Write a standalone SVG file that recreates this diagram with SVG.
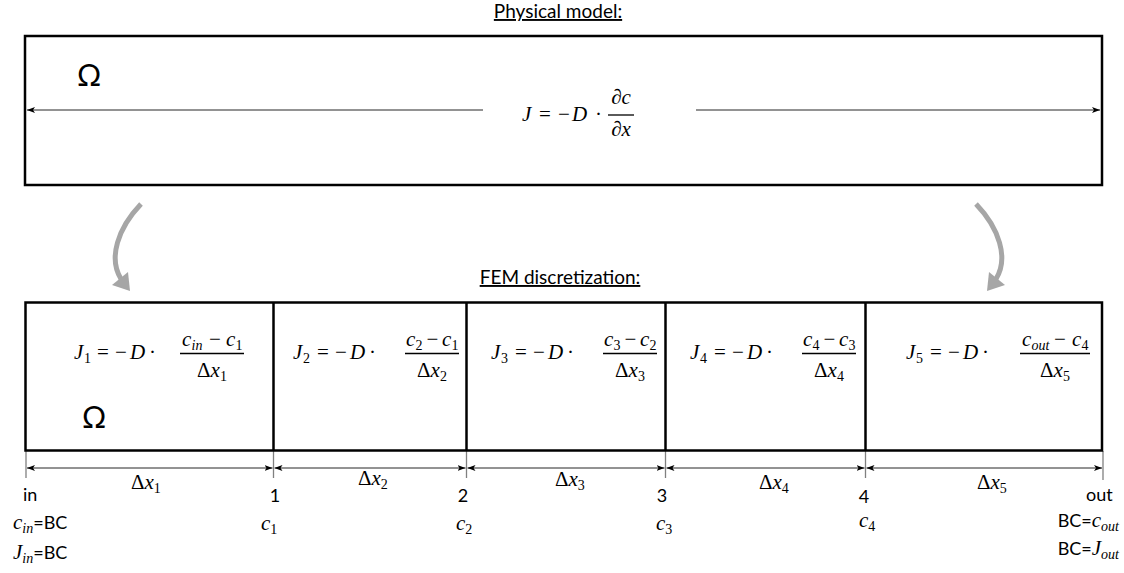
<svg xmlns="http://www.w3.org/2000/svg" width="1124" height="573" viewBox="0 0 1124 573">
<style>
.box{fill:none;stroke:#000;stroke-width:2.5}
.div{stroke:#000;stroke-width:2.5}
.tick{stroke:#808080;stroke-width:1.3}
.dim{stroke:#262626;stroke-width:1}
.bar{stroke:#000;stroke-width:1.3}
.cur{fill:none;stroke:#a6a6a6;stroke-width:5}
.hd{fill:#a6a6a6}
.t{font-family:Lato,"Liberation Sans",sans-serif;font-size:18px;fill:#000}
.ttl{font-family:Lato,"Liberation Sans",sans-serif;font-size:19px;fill:#000;text-decoration:underline}
.om{font-family:Lato,"Liberation Sans",sans-serif;font-size:30px;fill:#000}
.m{font-family:"Liberation Serif","DejaVu Serif",serif;font-size:21px;fill:#000}
.i{font-style:italic}
.s{font-size:14px}
</style>
<defs>
<marker id="ah" viewBox="0 0 8 6" refX="8" refY="3" markerWidth="8" markerHeight="6" markerUnits="userSpaceOnUse" orient="auto-start-reverse">
<path d="M0,0 L8,3 L0,6 L2,3 z" fill="#000"/>
</marker>
</defs>

<text class="ttl" x="558" y="18" text-anchor="middle">Physical model:</text>

<g id="physical-model">
<rect class="box" x="25" y="36" width="1077" height="149"/>
<text class="om" x="77" y="86">Ω</text>
<g id="flux-formula">
<text class="m i" x="522" y="121">J</text>
<text class="m" x="539" y="121">=</text>
<text class="m" x="558" y="121">−</text>
<text class="m i" x="572" y="121">D</text>
<text class="m" x="595" y="121">·</text>
<line class="bar" x1="608" y1="115" x2="634" y2="115"/>
<text class="m i" x="621" y="104" text-anchor="middle">∂c</text>
<text class="m i" x="621" y="136" text-anchor="middle">∂x</text>
</g>
</g>

<g id="connectors">
<line class="dim" x1="483" y1="110" x2="27" y2="110" marker-end="url(#ah)"/>
<line class="dim" x1="696" y1="110" x2="1100" y2="110" marker-end="url(#ah)"/>
<path class="cur" d="M141,204 C118,228 108,258 121,279"/>
<polygon class="hd" points="130,291 112,285 128,272"/>
<path class="cur" d="M976,204 C999,228 1009,258 996,279"/>
<polygon class="hd" points="987,291 1005,285 989,272"/>
<line class="tick" x1="26" y1="451" x2="26" y2="478"/>
<line class="tick" x1="273.5" y1="451" x2="273.5" y2="478"/>
<line class="tick" x1="466.5" y1="451" x2="466.5" y2="478"/>
<line class="tick" x1="665.5" y1="451" x2="665.5" y2="478"/>
<line class="tick" x1="865.5" y1="451" x2="865.5" y2="478"/>
<line class="tick" x1="1103" y1="451" x2="1103" y2="480"/>
<line class="dim" x1="27" y1="468" x2="272.5" y2="468" marker-start="url(#ah)" marker-end="url(#ah)"/>
<line class="dim" x1="274.5" y1="468" x2="465.5" y2="468" marker-start="url(#ah)" marker-end="url(#ah)"/>
<line class="dim" x1="467.5" y1="468" x2="664.5" y2="468" marker-start="url(#ah)" marker-end="url(#ah)"/>
<line class="dim" x1="666.5" y1="468" x2="864.5" y2="468" marker-start="url(#ah)" marker-end="url(#ah)"/>
<line class="dim" x1="866.5" y1="468" x2="1102" y2="468" marker-start="url(#ah)" marker-end="url(#ah)"/>
</g>

<text class="ttl" x="560" y="284" text-anchor="middle">FEM discretization:</text>

<g id="fem-discretization">
<rect class="box" x="25.5" y="302.5" width="1076.5" height="148"/>
<line class="div" x1="273.5" y1="302.5" x2="273.5" y2="450.5"/>
<line class="div" x1="466.5" y1="302.5" x2="466.5" y2="450.5"/>
<line class="div" x1="665.5" y1="302.5" x2="665.5" y2="450.5"/>
<line class="div" x1="865.5" y1="302.5" x2="865.5" y2="450.5"/>
<text class="om" x="82" y="428">Ω</text>
</g>

<g id="element-1">
<text class="m i" x="74" y="359">J</text><text class="m s" x="84" y="363">1</text>
<text class="m" x="97" y="359">=</text>
<text class="m" x="115" y="359">−</text>
<text class="m i" x="130" y="359">D</text>
<text class="m" x="149" y="359">·</text>
<line class="bar" x1="180" y1="353.5" x2="244" y2="353.5"/>
<text class="m i" x="182" y="346">c</text><text class="m i s" x="191.5" y="350">in</text>
<text class="m" x="209" y="346">−</text>
<text class="m i" x="226" y="346">c</text><text class="m s" x="235.5" y="350">1</text>
<text class="m" x="212" y="377" text-anchor="middle">Δ<tspan class="i">x</tspan><tspan class="s" dy="4">1</tspan></text>
</g>

<g id="element-2">
<text class="m i" x="293" y="359">J</text><text class="m s" x="303" y="363">2</text>
<text class="m" x="317" y="359">=</text>
<text class="m" x="335" y="359">−</text>
<text class="m i" x="350" y="359">D</text>
<text class="m" x="369" y="359">·</text>
<line class="bar" x1="405" y1="353.5" x2="459" y2="353.5"/>
<text class="m i" x="406" y="346">c</text><text class="m s" x="415.5" y="350">2</text>
<text class="m" x="426.5" y="346">−</text>
<text class="m i" x="442" y="346">c</text><text class="m s" x="451.5" y="350">1</text>
<text class="m" x="432" y="377" text-anchor="middle">Δ<tspan class="i">x</tspan><tspan class="s" dy="4">2</tspan></text>
</g>

<g id="element-3">
<text class="m i" x="491" y="359">J</text><text class="m s" x="501" y="363">3</text>
<text class="m" x="515" y="359">=</text>
<text class="m" x="533" y="359">−</text>
<text class="m i" x="548" y="359">D</text>
<text class="m" x="567" y="359">·</text>
<line class="bar" x1="603" y1="353.5" x2="657" y2="353.5"/>
<text class="m i" x="604" y="346">c</text><text class="m s" x="613.5" y="350">3</text>
<text class="m" x="624.5" y="346">−</text>
<text class="m i" x="640" y="346">c</text><text class="m s" x="649.5" y="350">2</text>
<text class="m" x="630" y="377" text-anchor="middle">Δ<tspan class="i">x</tspan><tspan class="s" dy="4">3</tspan></text>
</g>

<g id="element-4">
<text class="m i" x="690" y="359">J</text><text class="m s" x="700" y="363">4</text>
<text class="m" x="714" y="359">=</text>
<text class="m" x="732" y="359">−</text>
<text class="m i" x="747" y="359">D</text>
<text class="m" x="766" y="359">·</text>
<line class="bar" x1="802" y1="353.5" x2="856" y2="353.5"/>
<text class="m i" x="803" y="346">c</text><text class="m s" x="812.5" y="350">4</text>
<text class="m" x="823.5" y="346">−</text>
<text class="m i" x="839" y="346">c</text><text class="m s" x="848.5" y="350">3</text>
<text class="m" x="829" y="377" text-anchor="middle">Δ<tspan class="i">x</tspan><tspan class="s" dy="4">4</tspan></text>
</g>

<g id="element-5">
<text class="m i" x="906" y="359">J</text><text class="m s" x="916" y="363">5</text>
<text class="m" x="930" y="359">=</text>
<text class="m" x="948" y="359">−</text>
<text class="m i" x="963" y="359">D</text>
<text class="m" x="982" y="359">·</text>
<line class="bar" x1="1020" y1="353.5" x2="1090" y2="353.5"/>
<text class="m i" x="1022" y="346">c</text><text class="m i s" x="1031.5" y="350">out</text>
<text class="m" x="1054" y="346">−</text>
<text class="m i" x="1072" y="346">c</text><text class="m s" x="1081.5" y="350">4</text>
<text class="m" x="1055" y="377" text-anchor="middle">Δ<tspan class="i">x</tspan><tspan class="s" dy="4">5</tspan></text>
</g>

<g id="dimension-labels">
<text class="m" x="131" y="489">Δ<tspan class="i">x</tspan><tspan class="s" dy="4">1</tspan></text>
<text class="m" x="358" y="485">Δ<tspan class="i">x</tspan><tspan class="s" dy="4">2</tspan></text>
<text class="m" x="555" y="486">Δ<tspan class="i">x</tspan><tspan class="s" dy="4">3</tspan></text>
<text class="m" x="759" y="489">Δ<tspan class="i">x</tspan><tspan class="s" dy="4">4</tspan></text>
<text class="m" x="977" y="489">Δ<tspan class="i">x</tspan><tspan class="s" dy="4">5</tspan></text>
</g>

<g id="node-in">
<text class="t" x="23" y="501">in</text>
<text class="m i" x="13" y="529">c<tspan class="s" dy="4">in</tspan><tspan class="t" dy="-4" font-style="normal">=BC</tspan></text>
<text class="m i" x="13" y="559">J<tspan class="s" dy="4">in</tspan><tspan class="t" dy="-4" font-style="normal">=BC</tspan></text>
</g>
<g id="node-1">
<text class="t" x="275" y="502" text-anchor="middle">1</text>
<text class="m i" x="261" y="530">c<tspan class="s" dy="4" font-style="normal">1</tspan></text>
</g>
<g id="node-2">
<text class="t" x="463" y="502" text-anchor="middle">2</text>
<text class="m i" x="456" y="530">c<tspan class="s" dy="4" font-style="normal">2</tspan></text>
</g>
<g id="node-3">
<text class="t" x="662" y="502" text-anchor="middle">3</text>
<text class="m i" x="656" y="530">c<tspan class="s" dy="4" font-style="normal">3</tspan></text>
</g>
<g id="node-4">
<text class="t" x="864" y="503" text-anchor="middle">4</text>
<text class="m i" x="859" y="527">c<tspan class="s" dy="4" font-style="normal">4</tspan></text>
</g>
<g id="node-out">
<text class="t" x="1086" y="501">out</text>
<text class="t" x="1119" y="527" text-anchor="end">BC=<tspan class="m i">c</tspan><tspan class="m i s" dy="4">out</tspan></text>
<text class="t" x="1119" y="555" text-anchor="end">BC=<tspan class="m i">J</tspan><tspan class="m i s" dy="4">out</tspan></text>
</g>
</svg>
